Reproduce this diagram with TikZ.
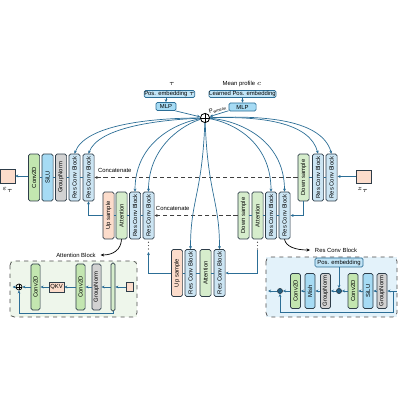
\documentclass[tikz,border=0pt]{standalone}
\usepackage{fontspec}
\setmainfont{Liberation Sans}
\usepackage{graphicx}
\usepackage{tikz}
\usetikzlibrary{arrows.meta}

\definecolor{edge}{HTML}{2E3D49}
\definecolor{arrc}{HTML}{2C6E96}
\definecolor{rcbfill}{HTML}{CCE5F3}
\definecolor{convfill}{HTML}{C3E6B0}
\definecolor{attfill}{HTML}{D6EDCC}
\definecolor{silufill}{HTML}{A6DBF4}
\definecolor{gnfill}{HTML}{D2D2D2}
\definecolor{upfill}{HTML}{FCDCCB}
\definecolor{embfill}{HTML}{C2E5F7}
\definecolor{mlpfill}{HTML}{A6DBF4}
\definecolor{attbg}{HTML}{EEF6EB}
\definecolor{rcbbg}{HTML}{E3F2FA}
\definecolor{dotc}{HTML}{1F5F85}

\newcommand{\blkfont}{\fontsize{4.2}{4.6}\selectfont}
\newcommand{\vt}[1]{\rotatebox{90}{#1}}

\tikzset{
  blk/.style={draw=edge, line width=0.5pt, rounded corners=1.2pt, inner sep=0pt,
    minimum width=0.28cm, minimum height=1.17cm, font=\blkfont},
  rcb/.style={blk, fill=rcbfill},
  cnv/.style={blk, fill=convfill},
  att/.style={blk, fill=attfill},
  slu/.style={blk, fill=silufill},
  gnm/.style={blk, fill=gnfill},
  ups/.style={blk, fill=upfill},
  pblk/.style={minimum width=0.23cm, minimum height=1.15cm},
  rblk/.style={minimum width=0.25cm, minimum height=0.875cm},
  emb/.style={draw=arrc, fill=embfill, line width=0.5pt, rounded corners=1pt, inner sep=0pt,
    minimum height=0.175cm, font=\blkfont},
  mlp/.style={emb, fill=mlpfill, minimum height=0.2cm},
  sq/.style={draw=edge, fill=upfill, line width=0.5pt, inner sep=0pt},
  arrw/.style={draw=arrc, line width=0.5pt, -{Stealth[length=2.2pt,width=2pt]}},
  lnk/.style={draw=arrc, line width=0.5pt},
  dsh/.style={draw=black!75, line width=0.5pt, densely dashed, -{Stealth[length=2.2pt,width=2pt]}},
  vdots/.style={draw=black!80, line width=0.8pt, dash pattern=on 0pt off 2.4pt, line cap=round},
  note/.style={draw=black, line width=0.5pt, -{Stealth[length=2.5pt,width=2.2pt]}},
  panel/.style={draw=black!70, dashed, line width=0.5pt, rounded corners=3pt},
}

\begin{document}
\begin{tikzpicture}[x=0.025cm, y=-0.025cm]
\useasboundingbox (0,0) rectangle (400,400);

% conditioning
\node[font=\blkfont] (tau) at (172,84) {$\tau$};
\node[emb, minimum width=1.22cm] (posemb) at (169.5,94) {Pos. embedding $\tau$};
\node[mlp, minimum width=0.5cm] (mlpT) at (166,106.5) {MLP};
\node[font=\blkfont] (mean) at (242,84) {Mean profile $c$};
\node[emb, minimum width=1.68cm] (lrnemb) at (242.5,94) {Learned Pos. embedding};
\node[mlp, minimum width=0.68cm] (mlpC) at (242.5,107) {MLP};
\node[circle, draw=black, line width=0.6pt, minimum size=0.23cm, inner sep=0pt] (add) at (205,118) {};
\draw[line width=0.6pt] (add.north) -- (add.south) (add.west) -- (add.east);
\draw[arrw] (posemb.south -| mlpT.north) -- (mlpT.north);
\draw[arrw] (lrnemb.south) -- (mlpC.north);
\draw[arrw] (mlpT.-25) -- (add);
\draw[arrw] (mlpC.195) -- (add) node[midway, above, sloped, font=\blkfont, inner sep=1pt] {P\textsubscript{wmean}};

% output side
\node[sq, minimum width=0.37cm, minimum height=0.35cm] (eps) at (7.5,176) {};
\node[font=\blkfont] (epsl) at (8,190) {$\varepsilon_\tau$};
\node[cnv] (conv) at (34,177.5) {\vt{Conv2D}};
\node[slu] (silu) at (47.5,177.5) {\vt{SiLU}};
\node[gnm] (gnorm) at (61,177.5) {\vt{GroupNorm}};
\node[rcb] (decA1) at (74.5,177.5) {\vt{Res Conv Block}};
\node[rcb] (decA2) at (88.5,177.5) {\vt{Res Conv Block}};

\node[ups] (upA) at (108.5,215.5) {\vt{Up sample}};
\node[att] (attA) at (121.5,215.5) {\vt{Attention}};
\node[rcb] (decB1) at (135,215.5) {\vt{Res Conv Block}};
\node[rcb] (decB2) at (148.5,215.5) {\vt{Res Conv Block}};

% bottleneck
\node[ups] (upM) at (177,273) {\vt{Up sample}};
\node[rcb] (midR1) at (190.5,273) {\vt{Res Conv Block}};
\node[att] (attM) at (205.5,273) {\vt{Attention}};
\node[rcb] (midR2) at (219.5,273) {\vt{Res Conv Block}};

% input side
\node[att] (dnB) at (243.5,215.5) {\vt{Down sample}};
\node[att] (attB) at (257.5,215.5) {\vt{Attention}};
\node[rcb] (encB1) at (271,215.5) {\vt{Res Conv Block}};
\node[rcb] (encB2) at (284.5,215.5) {\vt{Res Conv Block}};

\node[att] (dnA) at (303.5,177.5) {\vt{Down sample}};
\node[rcb] (encA1) at (318,177.5) {\vt{Res Conv Block}};
\node[rcb] (encA2) at (331.5,177.5) {\vt{Res Conv Block}};
\node[sq, minimum width=0.37cm, minimum height=0.33cm] (zt) at (363.5,176.5) {};
\node[font=\blkfont] (ztl) at (363,190) {$z_\tau$};

\foreach \a/\b in {conv/silu, silu/gnorm, gnorm/decA1, decA1/decA2,
                   upA/attA, attA/decB1, decB1/decB2,
                   upM/midR1, midR1/attM, attM/midR2,
                   dnB/attB, attB/encB1, encB1/encB2,
                   dnA/encA1, encA1/encA2}
  \draw[lnk] (\a) -- (\b);

\draw[arrw] (eps -| conv.west) -- (eps.east);
\draw[arrw] (zt.west) -- (zt.west -| encA2.east);
\draw[dsh] (dnA.west) -- (decA2.east) node[pos=0.9, above, font=\blkfont, text=black] {Concatenate};
\draw[dsh] (dnB.west) -- (decB2.east) node[pos=0.78, above, font=\blkfont, text=black] {Concatenate};
\draw[arrw] (dnA.south) |- (encB2.east);
\draw[arrw] (upA.west) -| (decA2.south);

\coordinate (jL) at (148.5,252);
\coordinate (jR) at (257.5,250);
\draw[vdots] (decB2.south) ++(0,3) -- ++(0,8);
\draw[vdots] (attB.south) ++(0,3) -- ++(0,8);
\draw[arrw] (upM.west) -| (jL);
\draw[arrw] (jR) |- (midR2.east);

% time and profile embedding to every block
\draw[arrw] (add) .. controls (150,118) and (85,125) .. (decA1.north);
\draw[arrw] (add) .. controls (155,120) and (98,128) .. (decA2.north);
\draw[arrw] (add) .. controls (180,122) and (135,140) .. (decB1.north);
\draw[arrw] (add) .. controls (185,124) and (148.5,145) .. (decB2.north);
\draw[arrw] (add) .. controls (202,195) and (190.5,200) .. (midR1.north);
\draw[arrw] (add) .. controls (208,195) and (219.5,200) .. (midR2.north);
\draw[arrw] (add) .. controls (230,122) and (271,140) .. (encB1.north);
\draw[arrw] (add) .. controls (236,120) and (284.5,138) .. (encB2.north);
\draw[arrw] (add) .. controls (260,116) and (310,122) .. (encA1.north);
\draw[arrw] (add) .. controls (265,115) and (322,120) .. (encA2.north);

% attention block detail
\node[font=\blkfont] (attTitle) at (76,255) {Attention Block};
\draw[note] (attA.south) .. controls (121,250) and (113,255) .. (attTitle.east);
\fill[attbg] (10,261) rectangle (137,317);
\draw[panel] (10,261) rectangle (137,317);
\node[circle, draw=black, line width=0.5pt, minimum size=0.15cm, inner sep=0pt] (aAdd) at (19,287) {};
\draw[line width=0.5pt] (aAdd.north) -- (aAdd.south) (aAdd.west) -- (aAdd.east);
\coordinate (aOut) at (12.5,287);
\node[cnv, pblk] (aConv1) at (35.5,287) {\vt{Conv2D}};
\node[sq, minimum width=0.37cm, minimum height=0.25cm, font=\blkfont] (qkv) at (56.5,287) {QKV};
\node[cnv, pblk] (aConv2) at (80.5,287) {\vt{Conv2D}};
\node[gnm, pblk] (aGn) at (96.5,287) {\vt{GroupNorm}};
\node[att, minimum width=0.1cm, minimum height=1.2cm] (aBar) at (113,287) {};
\node[sq, minimum width=0.18cm, minimum height=0.22cm] (aIn) at (129.5,287) {};
\foreach \a/\b in {aIn/aBar, aBar/aGn, aGn/aConv2, aConv2/qkv, qkv/aConv1, aConv1/aAdd, aAdd/aOut}
  \draw[arrw] (\a) -- (\b);
\draw[arrw] (aBar.south) -- ++(0,2) -| (aAdd.south);

% res conv block detail
\node[font=\blkfont] (rcbTitle) at (336,250) {Res Conv Block};
\draw[note] (encB2.south) .. controls (286,247) and (296,250) .. (rcbTitle.west);
\fill[rcbbg] (266,257) rectangle (397,317);
\draw[panel] (266,257) rectangle (397,317);
\node[emb, minimum width=1.2cm, minimum height=0.22cm] (pemb) at (339,262.5) {Pos. embedding};
\node[cnv, rblk] (rConv1) at (295.5,291) {\vt{Conv2D}};
\node[slu, rblk] (rMish) at (310,291) {\vt{Mish}};
\node[gnm, rblk] (rGn1) at (325.5,291) {\vt{GroupNorm}};
\node[cnv, rblk] (rConv2) at (353,291) {\vt{Conv2D}};
\node[slu, rblk] (rSilu) at (368,291) {\vt{SiLU}};
\node[gnm, rblk] (rGn2) at (382,291) {\vt{GroupNorm}};
\node[circle, fill=dotc, draw=edge, minimum size=0.13cm, inner sep=0pt] (rAdd1) at (280,291) {};
\node[circle, fill=dotc, draw=edge, minimum size=0.13cm, inner sep=0pt] (rAdd2) at (339,291) {};
\coordinate (rIn) at (397,291);
\coordinate (rOut) at (268,291);
\coordinate (rSk) at (393,291);
\coordinate (rSk2) at (393,312);
\foreach \a/\b in {rIn/rGn2, rGn2/rSilu, rSilu/rConv2, rConv2/rAdd2, rAdd2/rGn1,
                   rGn1/rMish, rMish/rConv1, rConv1/rAdd1, rAdd1/rOut}
  \draw[arrw] (\a) -- (\b);
\draw[arrw] (pemb) -- (rAdd2);
\draw[arrw] (rSk) -- (rSk2) -| (rAdd1.south);
\end{tikzpicture}
\end{document}
